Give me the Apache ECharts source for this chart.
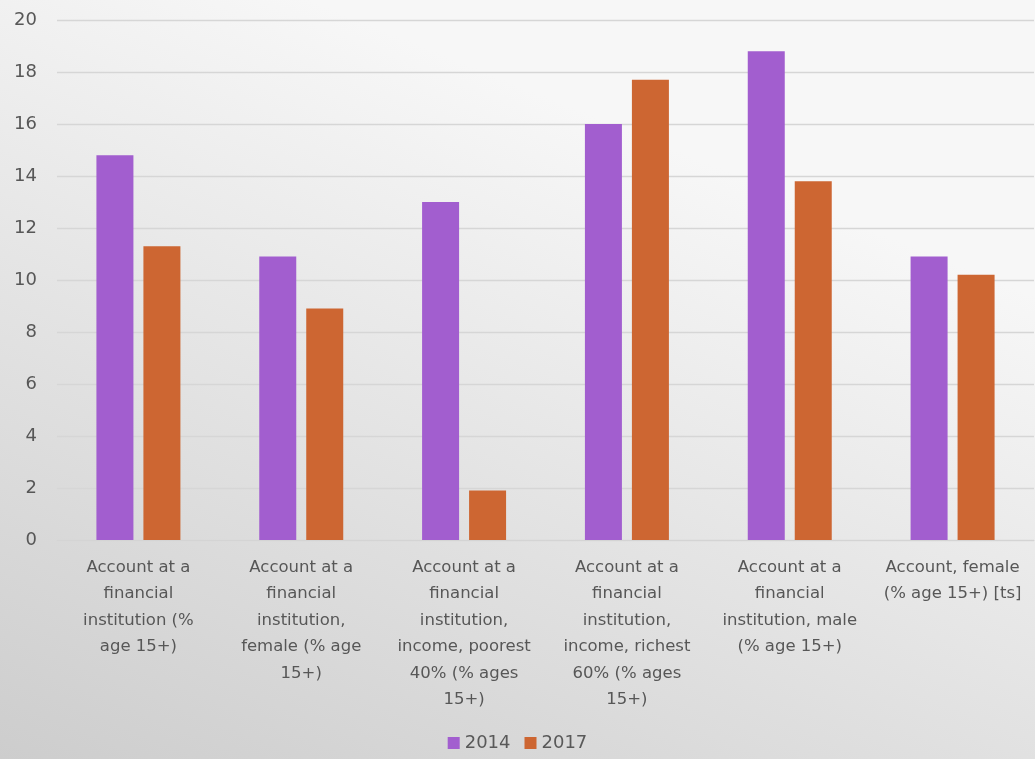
<!DOCTYPE html>
<html>
<head>
<meta charset="utf-8">
<script src="https://cdn.jsdelivr.net/npm/echarts@6/dist/echarts.min.js"></script>
<style>
html,body{margin:0;padding:0;width:1035px;height:759px;overflow:hidden;}
#c{width:1035px;height:759px;}
</style>
</head>
<body>
<div id="c"></div>
<script>
const categories = [
  "Account at a\nfinancial\ninstitution (%\nage 15+)",
  "Account at a\nfinancial\ninstitution,\nfemale (% age\n15+)",
  "Account at a\nfinancial\ninstitution,\nincome, poorest\n40% (% ages\n15+)",
  "Account at a\nfinancial\ninstitution,\nincome, richest\n60% (% ages\n15+)",
  "Account at a\nfinancial\ninstitution, male\n(% age 15+)",
  "Account, female\n(% age 15+) [ts]"
];
const values2014 = [14.8, 10.9, 13.0, 16.0, 18.8, 10.9];
const values2017 = [11.3, 8.9, 1.9, 17.7, 13.8, 10.2];
const seriesNames = ["2014", "2017"];
const yTicks = { min: 0, max: 20, interval: 2 };

const font = "'DejaVu Sans', sans-serif";
const chart = echarts.init(document.getElementById('c'), null, {renderer: 'canvas'});
chart.setOption({
  animation: false,
  backgroundColor: {
    type: 'linear', x: 0.3, y: 0, x2: 0, y2: 1,
    colorStops: [{offset: 0, color: '#f7f7f7'}, {offset: 1, color: '#cdcdcd'}]
  },
  color: ['#a25ecf', '#cd6632'],
  grid: { left: 57, right: 1, top: 20, bottom: 219, containLabel: false },
  legend: {
    data: seriesNames,
    bottom: 2,
    left: 'center',
    itemWidth: 12, itemHeight: 12, itemGap: 14,
    icon: 'rect',
    textStyle: { fontFamily: font, fontSize: 18, color: '#595959', padding: [0,0,0,0] }
  },
  xAxis: {
    type: 'category',
    data: categories,
    axisLine: { show: true, lineStyle: { color: '#d4d4d4', width: 1 } },
    axisTick: { show: false },
    axisLabel: {
      interval: 0, margin: 14, color: '#575757',
      fontFamily: font, fontSize: 16.5, lineHeight: 26.5, align: 'center'
    }
  },
  yAxis: {
    type: 'value',
    min: yTicks.min, max: yTicks.max, interval: yTicks.interval,
    axisLine: { show: false },
    axisTick: { show: false },
    splitLine: { lineStyle: { color: '#d6d6d6', width: 1.3 } },
    axisLabel: { margin: 20, color: '#575757', fontFamily: font, fontSize: 18 }
  },
  series: [
    { name: seriesNames[0], type: 'bar', data: values2014, barWidth: 37, barGap: '27%' },
    { name: seriesNames[1], type: 'bar', data: values2017, barWidth: 37, barGap: '27%' }
  ]
});
</script>
</body>
</html>
